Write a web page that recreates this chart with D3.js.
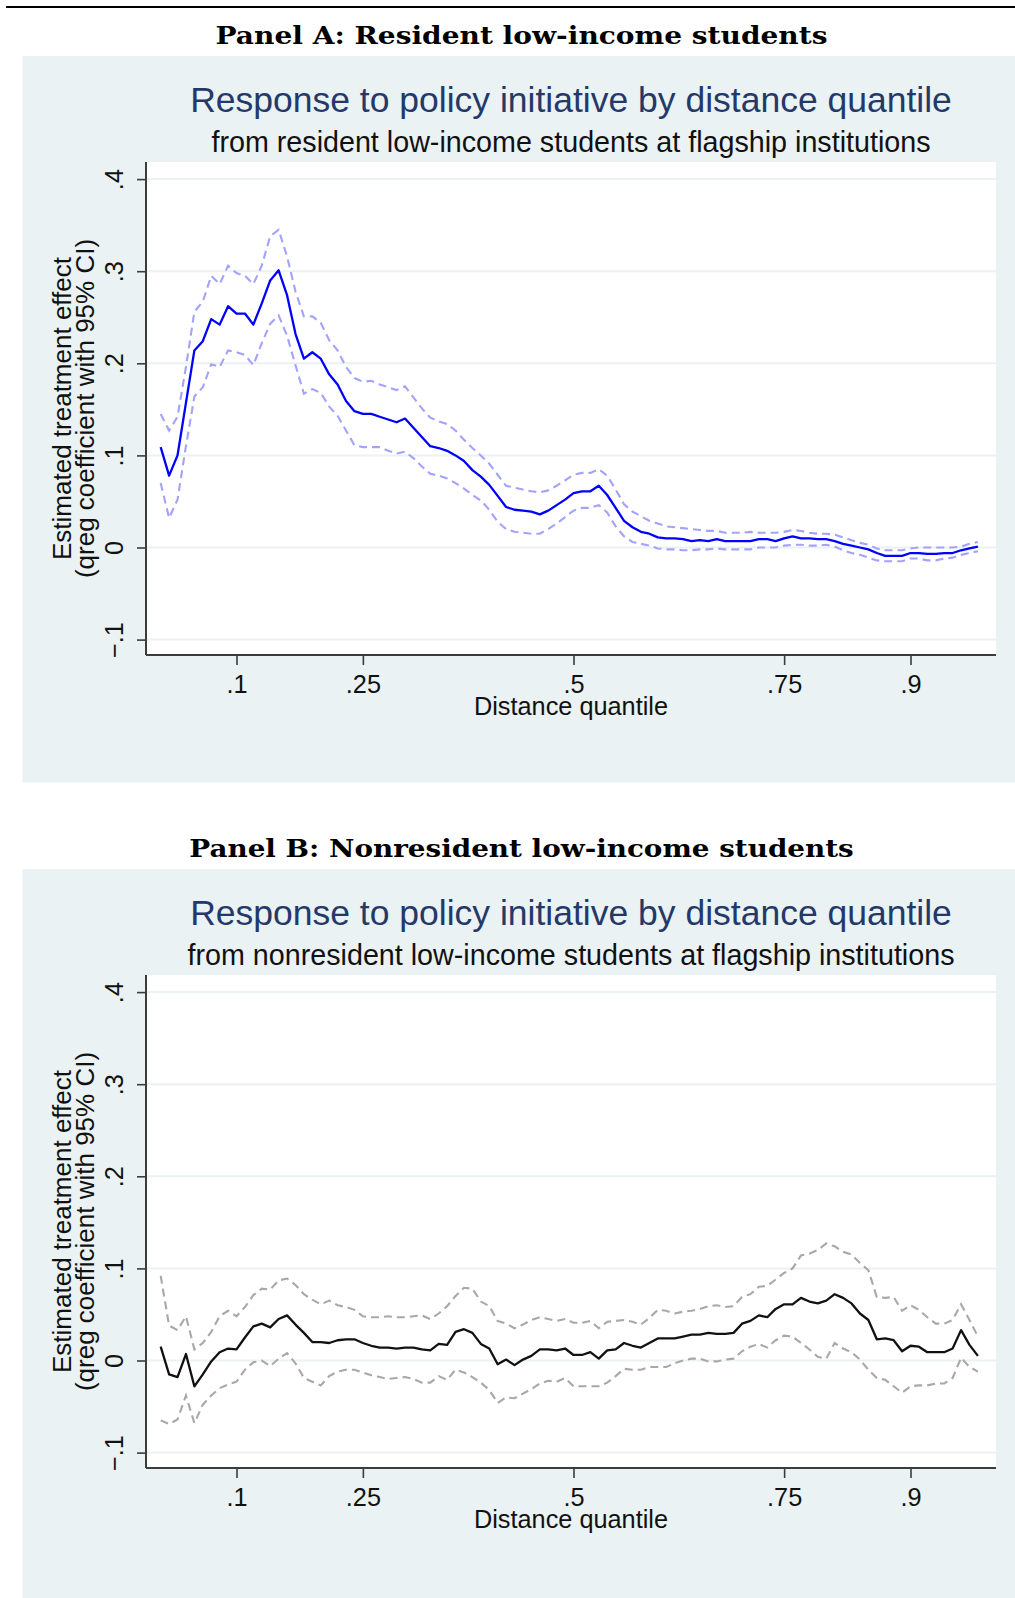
<!DOCTYPE html>
<html>
<head>
<meta charset="utf-8">
<script src="https://cdn.jsdelivr.net/npm/d3@7"></script>
<style>
  html, body { margin: 0; padding: 0; background: #fff; }
  svg { display: block; }
</style>
</head>
<body>
<div id="chart"></div>
<script>
var svgWidth = 1015;
var svgHeight = 1598;

// distance quantiles at which qreg was estimated
var quantiles = [0.01,0.02,0.03,0.04,0.05,0.06,0.07,0.08,0.09,0.10,
  0.11,0.12,0.13,0.14,0.15,0.16,0.17,0.18,0.19,0.20,
  0.21,0.22,0.23,0.24,0.25,0.26,0.27,0.28,0.29,0.30,
  0.31,0.32,0.33,0.34,0.35,0.36,0.37,0.38,0.39,0.40,
  0.41,0.42,0.43,0.44,0.45,0.46,0.47,0.48,0.49,0.50,
  0.51,0.52,0.53,0.54,0.55,0.56,0.57,0.58,0.59,0.60,
  0.61,0.62,0.63,0.64,0.65,0.66,0.67,0.68,0.69,0.70,
  0.71,0.72,0.73,0.74,0.75,0.76,0.77,0.78,0.79,0.80,
  0.81,0.82,0.83,0.84,0.85,0.86,0.87,0.88,0.89,0.90,
  0.91,0.92,0.93,0.94,0.95,0.96,0.97,0.98];

// Panel A: resident low-income students
var resEst = [0.109,0.078,0.100,0.157,0.214,0.224,0.248,0.242,0.262,0.254,
  0.254,0.242,0.265,0.290,0.301,0.274,0.232,0.205,0.212,0.205,
  0.188,0.177,0.159,0.148,0.145,0.145,0.142,0.139,0.136,0.140,
  0.130,0.120,0.110,0.108,0.105,0.100,0.094,0.084,0.077,0.068,
  0.056,0.044,0.041,0.040,0.039,0.036,0.040,0.046,0.052,0.059,
  0.061,0.061,0.067,0.057,0.043,0.029,0.022,0.017,0.015,0.011,
  0.010,0.010,0.009,0.007,0.008,0.007,0.009,0.007,0.007,0.007,
  0.007,0.009,0.009,0.007,0.010,0.012,0.010,0.010,0.009,0.009,
  0.007,0.004,0.002,0.000,-0.002,-0.006,-0.009,-0.009,-0.009,-0.006,
  -0.006,-0.007,-0.007,-0.006,-0.006,-0.003,-0.001,0.001];
var resHi = [0.145,0.127,0.142,0.196,0.256,0.267,0.295,0.286,0.306,0.298,
  0.295,0.286,0.306,0.338,0.345,0.316,0.278,0.251,0.251,0.244,
  0.225,0.214,0.196,0.184,0.180,0.181,0.177,0.174,0.171,0.175,
  0.163,0.151,0.141,0.137,0.134,0.127,0.117,0.108,0.100,0.091,
  0.079,0.067,0.065,0.063,0.061,0.060,0.062,0.067,0.073,0.079,
  0.081,0.081,0.085,0.078,0.063,0.047,0.039,0.034,0.029,0.026,
  0.023,0.022,0.021,0.020,0.019,0.018,0.018,0.016,0.016,0.016,
  0.017,0.016,0.016,0.016,0.017,0.019,0.018,0.016,0.015,0.015,
  0.014,0.011,0.008,0.005,0.003,-0.001,-0.003,-0.003,-0.003,-0.001,
  0.000,0.000,0.000,0.000,0.000,0.001,0.004,0.006];
var resLo = [0.070,0.032,0.052,0.110,0.164,0.174,0.199,0.196,0.214,0.212,
  0.209,0.198,0.222,0.243,0.252,0.230,0.198,0.167,0.172,0.168,
  0.153,0.143,0.127,0.111,0.109,0.109,0.109,0.105,0.102,0.104,
  0.097,0.088,0.080,0.078,0.075,0.070,0.064,0.057,0.051,0.041,
  0.028,0.020,0.017,0.016,0.015,0.015,0.020,0.026,0.033,0.040,
  0.043,0.043,0.046,0.038,0.023,0.012,0.006,0.004,0.002,-0.001,
  -0.002,-0.002,-0.003,-0.003,-0.002,-0.002,-0.001,-0.002,-0.002,-0.002,
  -0.002,0.000,0.000,0.000,0.002,0.003,0.003,0.002,0.002,0.003,
  0.001,-0.003,-0.006,-0.008,-0.011,-0.014,-0.015,-0.015,-0.015,-0.012,
  -0.012,-0.014,-0.014,-0.012,-0.011,-0.008,-0.006,-0.004];

// Panel B: nonresident low-income students
var nonEst = [0.015,-0.015,-0.018,0.007,-0.028,-0.015,-0.001,0.009,0.013,0.012,
  0.025,0.037,0.040,0.036,0.045,0.049,0.039,0.030,0.020,0.020,
  0.019,0.022,0.023,0.023,0.019,0.016,0.014,0.014,0.013,0.014,
  0.014,0.012,0.011,0.018,0.017,0.031,0.034,0.030,0.018,0.013,
  -0.004,0.001,-0.005,0.001,0.005,0.012,0.012,0.011,0.013,0.006,
  0.006,0.009,0.002,0.011,0.012,0.019,0.016,0.014,0.019,0.024,
  0.024,0.024,0.026,0.028,0.028,0.030,0.029,0.029,0.030,0.040,
  0.043,0.049,0.047,0.056,0.061,0.061,0.068,0.064,0.062,0.065,
  0.072,0.068,0.062,0.051,0.044,0.023,0.024,0.022,0.010,0.016,
  0.015,0.009,0.009,0.009,0.013,0.033,0.017,0.005];
var nonHi = [0.092,0.038,0.033,0.048,0.012,0.019,0.031,0.048,0.054,0.048,
  0.058,0.071,0.078,0.077,0.087,0.089,0.082,0.072,0.066,0.061,
  0.065,0.060,0.058,0.055,0.048,0.047,0.047,0.048,0.047,0.047,
  0.048,0.049,0.045,0.051,0.059,0.070,0.079,0.078,0.064,0.059,
  0.043,0.040,0.035,0.039,0.044,0.047,0.045,0.043,0.045,0.041,
  0.041,0.043,0.035,0.042,0.043,0.044,0.042,0.039,0.046,0.055,
  0.054,0.051,0.053,0.054,0.056,0.059,0.060,0.058,0.059,0.069,
  0.072,0.080,0.081,0.088,0.095,0.100,0.114,0.116,0.120,0.127,
  0.124,0.118,0.115,0.106,0.098,0.069,0.068,0.069,0.054,0.060,
  0.055,0.047,0.040,0.040,0.044,0.061,0.044,0.026];
var nonLo = [-0.065,-0.069,-0.064,-0.038,-0.068,-0.048,-0.038,-0.030,-0.026,-0.023,
  -0.010,-0.002,0.000,-0.006,0.002,0.008,-0.003,-0.019,-0.023,-0.027,
  -0.017,-0.012,-0.010,-0.010,-0.013,-0.016,-0.018,-0.020,-0.019,-0.018,
  -0.020,-0.024,-0.024,-0.017,-0.021,-0.010,-0.013,-0.018,-0.024,-0.032,
  -0.046,-0.040,-0.041,-0.036,-0.031,-0.025,-0.022,-0.023,-0.019,-0.028,
  -0.028,-0.028,-0.028,-0.024,-0.017,-0.009,-0.010,-0.010,-0.007,-0.007,
  -0.007,-0.003,0.000,0.002,0.002,-0.001,-0.001,0.001,0.002,0.010,
  0.015,0.018,0.014,0.022,0.027,0.026,0.019,0.012,0.004,0.002,
  0.019,0.013,0.009,0.001,-0.010,-0.019,-0.021,-0.028,-0.035,-0.028,
  -0.027,-0.027,-0.025,-0.025,-0.019,0.003,-0.007,-0.012];

var xTicks = [0.1, 0.25, 0.5, 0.75, 0.9];
var yTicks = [-0.1, 0, 0.1, 0.2, 0.3, 0.4];

var chartTitle = "Response to policy initiative by distance quantile";
var xTitle = "Distance quantile";
var yTitle = ["Estimated treatment effect", "(qreg coefficient with 95% CI)"];

var bgColor = "#eaf2f3";
var axisColor = "#3c3c3c";
var sansFont = "'Liberation Sans', Arial, Helvetica, sans-serif";

var plot = { left: 146, right: 996, top: 162, bottom: 655 };

var svg = d3.select("#chart")
  .append("svg")
  .attr("width", svgWidth)
  .attr("height", svgHeight);

// rule at the very top of the page
svg.append("line")
  .attr("x1", 6).attr("x2", svgWidth)
  .attr("y1", 7).attr("y2", 7)
  .attr("stroke", "#000")
  .attr("stroke-width", 2);

var xScale = d3.scaleLinear().domain([0, 1]).range([152.25, 994.75]);
var yScale = d3.scaleLinear().domain([-0.1, 0.4]).range([639.6, 179.1]);

// Stata style labels: .1 .25 -.1 0
function fmt(d) {
  if (d === 0) return "0";
  return d3.format(".2~f")(d).replace("0.", ".");
}

function drawPanel(offsetY, bgHeight, panelTitle, panelTitleLen, subTitle, est, lo, hi, mainColor, ciColor) {
  var g = svg.append("g").attr("transform", `translate(0, ${offsetY})`);

  g.append("text")
    .attr("x", 521.5)
    .attr("y", 44)
    .attr("text-anchor", "middle")
    .attr("font-family", "'DejaVu Serif', serif")
    .attr("font-weight", "bold")
    .attr("font-size", 25)
    .attr("textLength", panelTitleLen)
    .attr("lengthAdjust", "spacingAndGlyphs")
    .text(panelTitle);

  // graph region
  g.append("rect")
    .attr("x", 22.5).attr("y", 56)
    .attr("width", svgWidth - 22.5)
    .attr("height", bgHeight)
    .attr("fill", bgColor);

  g.append("text")
    .attr("x", 571)
    .attr("y", 112)
    .attr("text-anchor", "middle")
    .attr("font-family", sansFont)
    .attr("font-size", 35.5)
    .attr("fill", "#24396a")
    .text(chartTitle);

  g.append("text")
    .attr("x", 571)
    .attr("y", 152)
    .attr("text-anchor", "middle")
    .attr("font-family", sansFont)
    .attr("font-size", 28.7)
    .attr("fill", "#111")
    .text(subTitle);

  // plot region
  g.append("rect")
    .attr("x", plot.left).attr("y", plot.top)
    .attr("width", plot.right - plot.left)
    .attr("height", plot.bottom - plot.top)
    .attr("fill", "#fff");

  g.append("g").selectAll("line")
    .data(yTicks)
    .enter()
    .append("line")
    .attr("x1", plot.left).attr("x2", plot.right)
    .attr("y1", d => yScale(d)).attr("y2", d => yScale(d))
    .attr("stroke", bgColor)
    .attr("stroke-width", 2);

  var line = d3.line()
    .x((d, i) => xScale(quantiles[i]))
    .y(d => yScale(d));

  [lo, hi].forEach(function(s) {
    g.append("path")
      .datum(s)
      .attr("d", line)
      .attr("fill", "none")
      .attr("stroke", ciColor)
      .attr("stroke-width", 2.1)
      .attr("stroke-dasharray", "8,5");
  });

  g.append("path")
    .datum(est)
    .attr("d", line)
    .attr("fill", "none")
    .attr("stroke", mainColor)
    .attr("stroke-width", 2.3)
    .attr("stroke-linejoin", "round");

  // y axis
  var leftAxis = d3.axisLeft(yScale).tickValues(yTicks).tickSize(9).tickFormat(fmt);
  var yAxis = g.append("g")
    .attr("transform", `translate(${plot.left}, 0)`)
    .call(leftAxis);
  yAxis.select(".domain").remove();
  yAxis.selectAll(".tick line").attr("stroke", axisColor).attr("stroke-width", 1.6);
  yAxis.selectAll(".tick text")
    .attr("x", 0)
    .attr("y", -22.7)
    .attr("dy", 0)
    .attr("transform", "rotate(-90)")
    .attr("text-anchor", "middle")
    .attr("font-family", sansFont)
    .attr("font-size", 25.3)
    .attr("fill", "#111");

  // x axis
  var bottomAxis = d3.axisBottom(xScale).tickValues(xTicks).tickSize(10).tickFormat(fmt);
  var xAxis = g.append("g")
    .attr("transform", `translate(0, ${plot.bottom})`)
    .call(bottomAxis);
  xAxis.select(".domain").remove();
  xAxis.selectAll(".tick line").attr("stroke", axisColor).attr("stroke-width", 1.6);
  xAxis.selectAll(".tick text")
    .attr("y", 38.3)
    .attr("dy", 0)
    .attr("font-family", sansFont)
    .attr("font-size", 25.3)
    .attr("fill", "#111");

  // axis lines
  g.append("line")
    .attr("x1", plot.left).attr("x2", plot.left)
    .attr("y1", plot.top).attr("y2", plot.bottom)
    .attr("stroke", axisColor).attr("stroke-width", 2);
  g.append("line")
    .attr("x1", plot.left).attr("x2", plot.right)
    .attr("y1", plot.bottom).attr("y2", plot.bottom)
    .attr("stroke", axisColor).attr("stroke-width", 2);

  g.append("text")
    .attr("x", 571)
    .attr("y", 715)
    .attr("text-anchor", "middle")
    .attr("font-family", sansFont)
    .attr("font-size", 25.3)
    .attr("fill", "#111")
    .text(xTitle);

  var yBase = [70.5, 93.5];
  yTitle.forEach(function(t, i) {
    g.append("text")
      .attr("transform", `translate(${yBase[i]}, ${(plot.top + plot.bottom) / 2}) rotate(-90)`)
      .attr("text-anchor", "middle")
      .attr("font-family", sansFont)
      .attr("font-size", 26)
      .attr("fill", "#111")
      .text(t);
  });
}

drawPanel(0, 726.6, "Panel A: Resident low-income students", 612,
  "from resident low-income students at flagship institutions",
  resEst, resLo, resHi, "#0000ff", "#a3a3fc");

drawPanel(813, svgHeight - 869, "Panel B: Nonresident low-income students", 664.5,
  "from nonresident low-income students at flagship institutions",
  nonEst, nonLo, nonHi, "#111111", "#a8a8a8");
</script>
</body>
</html>
